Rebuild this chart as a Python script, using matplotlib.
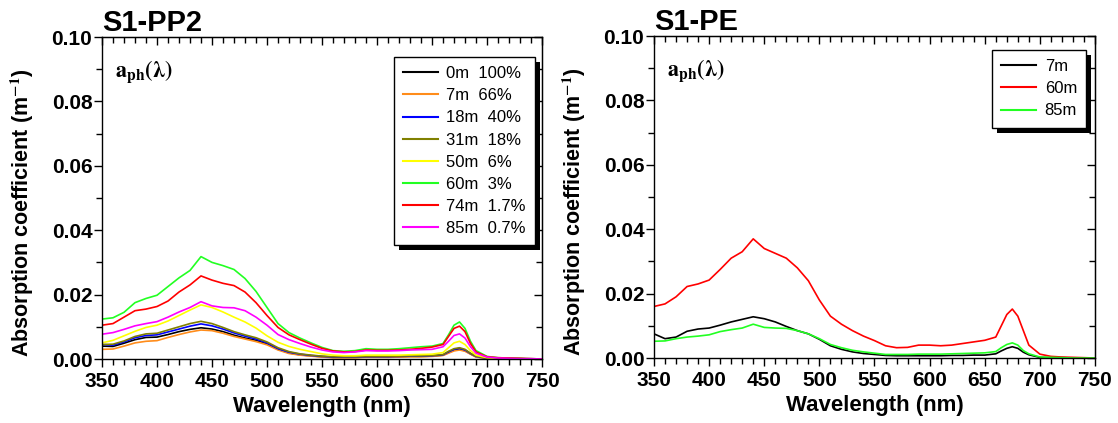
import matplotlib
matplotlib.use('Agg')
import matplotlib.pyplot as plt
from matplotlib.patches import Rectangle
from matplotlib.ticker import MultipleLocator

font = 'Liberation Sans'

# Wavelength grid (nm)
wl = [350, 360, 370, 380, 390, 400, 410, 420, 430, 440, 450, 460, 470, 480, 490,
      500, 510, 520, 530, 540, 550, 560, 570, 580, 590, 600, 610, 620, 630, 640,
      650, 660, 665, 670, 675, 680, 685, 690, 700, 710, 720, 730, 740, 750]

# S1-PP2 (values x 1e-3 m^-1)
pp2_0m = [4.0, 3.9, 4.9, 6.0, 6.7, 6.8, 7.6, 8.5, 9.2, 9.7, 9.3, 8.5, 7.4, 6.5, 5.8,
          4.7, 3.0, 1.9, 1.3, 1.0, 0.7, 0.5, 0.5, 0.5, 0.6, 0.6, 0.6, 0.7, 0.8, 0.8,
          0.9, 1.2, 2.0, 2.8, 3.0, 2.6, 1.6, 0.7, 0.2, 0.1, 0.1, 0.0, 0.0, 0.0]
pp2_7m = [3.0, 3.1, 4.0, 5.0, 5.5, 5.7, 6.7, 7.6, 8.4, 9.0, 8.8, 8.0, 7.0, 6.2, 5.4,
          4.4, 2.8, 1.7, 1.2, 0.9, 0.6, 0.4, 0.4, 0.4, 0.5, 0.5, 0.5, 0.6, 0.7, 0.7,
          0.8, 1.1, 1.8, 2.5, 2.8, 2.4, 1.5, 0.6, 0.2, 0.1, 0.1, 0.0, 0.0, 0.0]
pp2_18m = [4.5, 4.3, 5.3, 6.6, 7.3, 7.5, 8.4, 9.3, 10.2, 10.9, 10.3, 9.3, 8.1, 7.1, 6.2,
           5.0, 3.2, 2.1, 1.5, 1.1, 0.8, 0.6, 0.6, 0.6, 0.7, 0.7, 0.7, 0.8, 0.9, 0.9,
           1.0, 1.3, 2.2, 3.0, 3.3, 2.8, 1.7, 0.8, 0.3, 0.2, 0.1, 0.1, 0.0, 0.0]
pp2_31m = [4.5, 4.6, 5.6, 7.0, 7.8, 8.0, 9.0, 10.0, 11.0, 11.7, 11.0, 9.8, 8.5, 7.5, 6.6,
           5.3, 3.5, 2.3, 1.6, 1.2, 0.9, 0.7, 0.7, 0.7, 0.8, 0.8, 0.8, 0.9, 1.0, 1.0,
           1.1, 1.4, 2.4, 3.2, 3.5, 3.0, 1.8, 0.9, 0.3, 0.2, 0.1, 0.1, 0.0, 0.0]
pp2_50m = [5.0, 5.8, 7.2, 8.6, 9.8, 10.5, 11.8, 13.5, 15.2, 16.8, 16.0, 14.6, 13.0, 11.5, 9.6,
           7.2, 5.2, 3.9, 3.0, 2.3, 1.6, 1.2, 1.0, 1.0, 1.2, 1.2, 1.2, 1.2, 1.3, 1.4,
           1.5, 2.0, 3.5, 5.0, 5.5, 4.5, 2.6, 1.2, 0.4, 0.2, 0.1, 0.1, 0.0, 0.0]
pp2_60m = [12.4, 12.8, 14.5, 17.5, 18.8, 19.8, 22.5, 25.2, 27.5, 31.8, 30.0, 29.0, 27.8, 25.0, 21.0,
           16.0, 11.0, 8.2, 6.5, 5.0, 3.6, 2.6, 2.4, 2.6, 3.2, 3.0, 3.0, 3.2, 3.5, 3.8,
           4.0, 4.8, 7.5, 10.5, 11.5, 9.5, 5.5, 2.6, 0.8, 0.4, 0.3, 0.2, 0.1, 0.0]
pp2_74m = [10.5, 11.0, 13.0, 15.0, 15.5, 16.3, 18.0, 20.8, 23.0, 25.8, 24.5, 23.5, 22.8, 20.8, 17.5,
           13.5, 9.8, 7.5, 6.0, 4.6, 3.3, 2.5, 2.2, 2.3, 2.8, 2.7, 2.7, 2.8, 3.0, 3.3,
           3.7, 4.5, 7.0, 9.5, 10.2, 8.5, 4.8, 2.2, 0.7, 0.4, 0.3, 0.2, 0.1, 0.0]
pp2_85m = [7.7, 8.2, 9.2, 10.3, 11.0, 11.6, 13.0, 14.6, 16.0, 17.8, 16.5, 16.0, 15.9, 15.0, 13.0,
           10.5, 7.6, 6.0, 4.8, 3.7, 2.8, 2.2, 2.0, 2.2, 2.6, 2.5, 2.5, 2.6, 2.8, 2.9,
           3.0, 3.8, 5.5, 7.3, 7.8, 6.5, 3.8, 1.8, 0.6, 0.3, 0.2, 0.1, 0.1, 0.0]

pp2_labels = ['0m  100%', '7m  66%', '18m  40%', '31m  18%',
              '50m  6%', '60m  3%', '74m  1.7%', '85m  0.7%']
pp2_series = [pp2_0m, pp2_7m, pp2_18m, pp2_31m, pp2_50m, pp2_60m, pp2_74m, pp2_85m]
pp2_colors = ['#000000', '#ff8c1a', '#0000ff', '#808000',
              '#ffff00', '#22ff22', '#ff0000', '#ff00ff']

# S1-PE (values x 1e-3 m^-1)
pe_7m = [7.5, 6.0, 6.5, 8.3, 9.0, 9.3, 10.2, 11.2, 12.0, 12.8, 12.2, 11.2, 9.8, 8.5, 7.5,
         5.8, 3.8, 2.7, 1.9, 1.4, 1.1, 0.8, 0.7, 0.7, 0.7, 0.7, 0.7, 0.8, 0.8, 0.9,
         0.9, 1.3, 2.2, 3.0, 3.5, 3.0, 1.8, 1.0, 0.2, 0.1, 0.1, 0.0, 0.0, 0.0]
pe_60m = [16.0, 16.8, 19.0, 22.2, 23.0, 24.2, 27.5, 31.0, 33.0, 37.0, 34.0, 32.5, 31.0, 28.0, 24.0,
          18.0, 13.0, 10.5, 8.5, 6.8, 5.4, 3.8, 3.2, 3.3, 4.0, 4.0, 3.8, 4.0, 4.5, 5.0,
          5.5, 6.5, 10.0, 13.5, 15.2, 13.0, 8.5, 4.0, 1.2, 0.5, 0.3, 0.2, 0.1, 0.0]
pe_85m = [5.2, 5.3, 6.0, 6.5, 6.8, 7.2, 8.2, 8.8, 9.3, 10.5, 9.5, 9.3, 9.2, 8.5, 7.5,
          6.0, 4.2, 3.2, 2.4, 1.9, 1.5, 1.1, 1.1, 1.1, 1.2, 1.2, 1.2, 1.3, 1.4, 1.5,
          1.6, 2.0, 3.2, 4.2, 4.7, 4.0, 2.3, 1.3, 0.3, 0.2, 0.1, 0.0, 0.0, 0.0]

pe_labels = ['7m', '60m', '85m']
pe_series = [pe_7m, pe_60m, pe_85m]
pe_colors = ['#000000', '#ff0000', '#22ff22']

plt.rcParams['mathtext.fontset'] = 'stix'

W, H = 1118, 423
fig = plt.figure(figsize=(W / 100, H / 100), dpi=100)
ax1 = fig.add_axes([102 / W, 1 - 359 / H, 440 / W, 322 / H])
ax2 = fig.add_axes([654 / W, 1 - 358 / H, 441 / W, 322 / H])


def style_axes(ax, title):
    ax.set_xlim(350, 750)
    ax.set_ylim(0, 0.10)
    ax.xaxis.set_major_locator(MultipleLocator(50))
    ax.xaxis.set_minor_locator(MultipleLocator(10))
    ax.yaxis.set_major_locator(MultipleLocator(0.02))
    ax.yaxis.set_minor_locator(MultipleLocator(0.01))
    ax.yaxis.set_major_formatter(plt.FormatStrFormatter('%.2f'))
    for sp in ax.spines.values():
        sp.set_linewidth(1.0)
    ax.tick_params(which='both', bottom=True, left=True, top=False, right=False,
                   direction='out', width=1)
    ax.tick_params(which='major', length=6)
    ax.tick_params(which='minor', length=4)
    # inward ticks on top and right spines
    tx = ax.secondary_xaxis('top')
    tx.xaxis.set_major_locator(MultipleLocator(50))
    tx.xaxis.set_minor_locator(MultipleLocator(10))
    tx.tick_params(which='both', direction='in', labeltop=False, width=1)
    tx.tick_params(which='major', length=6)
    tx.tick_params(which='minor', length=4)
    ty = ax.secondary_yaxis('right')
    ty.yaxis.set_major_locator(MultipleLocator(0.02))
    ty.yaxis.set_minor_locator(MultipleLocator(0.01))
    ty.tick_params(which='both', direction='in', labelright=False, width=1)
    ty.tick_params(which='major', length=6)
    ty.tick_params(which='minor', length=4)
    for lab in ax.get_xticklabels() + ax.get_yticklabels():
        lab.set_fontfamily(font)
        lab.set_fontweight('bold')
        lab.set_fontsize(15)
    ax.tick_params(axis='x', pad=3)
    ax.tick_params(axis='y', pad=1)
    ax.set_xlabel('Wavelength (nm)', fontfamily=font, fontweight='bold', fontsize=16)
    ax.set_ylabel('Absorption coefficient (m$^{\\mathbf{-1}}$)', fontfamily=font,
                  fontweight='bold', fontsize=15.5)
    ax.yaxis.set_label_coords(-0.15, 0.455)
    ax.set_title(title, loc='left', fontfamily=font, fontweight='bold',
                 fontsize=21, pad=-2, x=0.0)
    ax.text(0.03, 0.875, r'$\mathbf{a}_{\mathbf{ph}}\mathbf{(\lambda)}$',
            transform=ax.transAxes, fontsize=16)


for y, lab, c in zip(pp2_series, pp2_labels, pp2_colors):
    ax1.plot(wl, [v / 1000 for v in y], color=c, lw=1.2, label=lab)
for y, lab, c in zip(pe_series, pe_labels, pe_colors):
    ax2.plot(wl, [v / 1000 for v in y], color=c, lw=1.2, label=lab)

style_axes(ax1, 'S1-PP2')
style_axes(ax2, 'S1-PE')

leg_kw = dict(frameon=True, fancybox=False, framealpha=1, edgecolor='black',
              prop={'family': font, 'size': 12}, handlelength=2.1,
              labelspacing=0.43, borderpad=0.55, handletextpad=0.5,
              borderaxespad=0)
leg1 = ax1.legend(loc='upper right', bbox_to_anchor=(0.984, 0.938), **leg_kw)
leg2 = ax2.legend(loc='upper right', bbox_to_anchor=(0.98, 0.957), **leg_kw)
for leg in (leg1, leg2):
    leg.get_frame().set_linewidth(1.0)
    for h in leg.get_lines():
        h.set_linewidth(1.5)

# black drop shadow behind legends
fig.canvas.draw()
for ax, leg in ((ax1, leg1), (ax2, leg2)):
    bb = leg.get_window_extent().transformed(ax.transAxes.inverted())
    dx = 5 / 440
    dy = 5 / 322
    ax.add_patch(Rectangle((bb.x0 + dx, bb.y0 - dy), bb.width, bb.height,
                           transform=ax.transAxes, facecolor='black',
                           edgecolor='none', zorder=4.9, clip_on=False))

fig.savefig('out.png', dpi=100)
